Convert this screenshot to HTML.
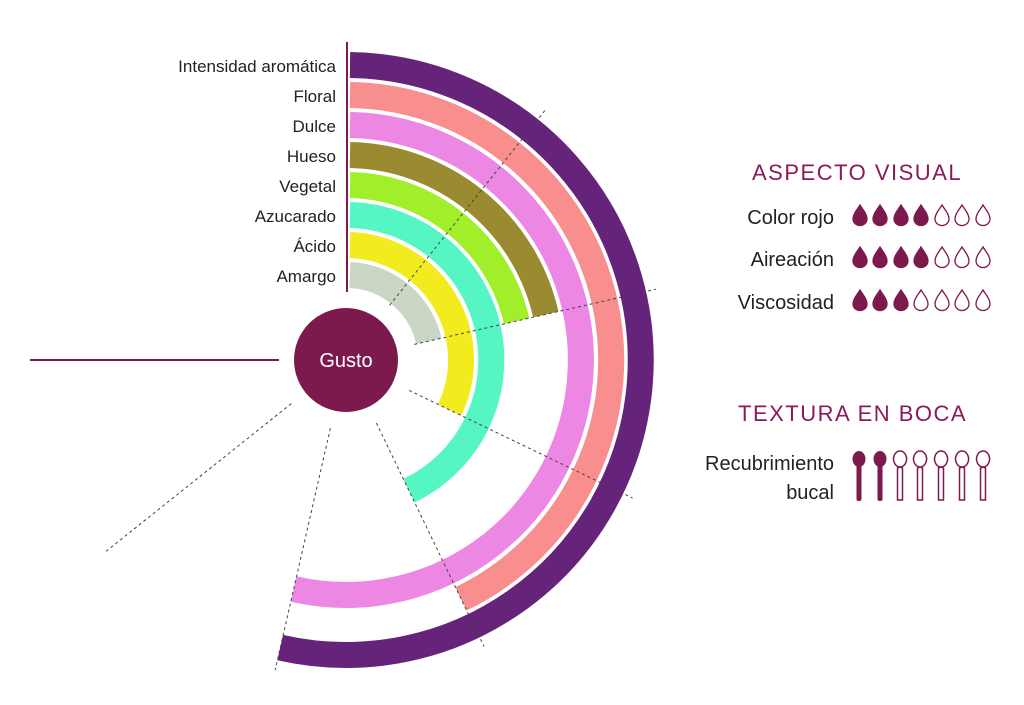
<!DOCTYPE html>
<html><head><meta charset="utf-8"><style>
body{margin:0;background:#fff}
svg{display:block}
text{font-family:"Liberation Sans",sans-serif}
</style></head><body>
<svg width="1024" height="705" viewBox="0 0 1024 705" xmlns="http://www.w3.org/2000/svg">
<g fill="none" stroke-width="26">
<path d="M350 65 A295 295 0 1 1 280.2 647.6" stroke="#66237a"/>
<path d="M350 95 A265 265 0 0 1 461 598.8" stroke="#f98e8e"/>
<path d="M350 125 A235 235 0 1 1 293.7 589.1" stroke="#ec88e4"/>
<path d="M350 155 A205 205 0 0 1 545.8 314.4" stroke="#9a8a30"/>
<path d="M350 185 A175 175 0 0 1 516.6 321" stroke="#a0ef2a"/>
<path d="M350 215 A145 145 0 0 1 409 490.7" stroke="#55f5c4"/>
<path d="M350 245 A115 115 0 0 1 449.6 409.9" stroke="#f2ec1f"/>
<path d="M350 275 A85 85 0 0 1 428.9 341.1" stroke="#c9d6c4"/>
</g>
<g stroke="#444" stroke-width="1" stroke-dasharray="3 3">
<line x1="389.6" y1="305.3" x2="545.5" y2="109.8"/>
<line x1="414.2" y1="344.4" x2="656" y2="289.2"/>
<line x1="409.1" y1="390.4" x2="632.5" y2="498"/>
<line x1="376.4" y1="423" x2="484" y2="646.5"/>
<line x1="330.4" y1="428.2" x2="275.2" y2="670"/>
<line x1="291.3" y1="403.6" x2="103.6" y2="553.3"/>
</g>
<line x1="347" y1="42" x2="347" y2="292" stroke="#7d1a4d" stroke-width="2"/>
<line x1="30" y1="360" x2="279" y2="360" stroke="#7d1a4d" stroke-width="2"/>
<circle cx="346" cy="360" r="52" fill="#7d1a4d"/>
<text x="346" y="367" fill="#fff" font-size="20" text-anchor="middle">Gusto</text>
<g font-size="17" fill="#222" text-anchor="end">
<text x="336" y="72">Intensidad aromática</text>
<text x="336" y="102">Floral</text>
<text x="336" y="132">Dulce</text>
<text x="336" y="162">Hueso</text>
<text x="336" y="192">Vegetal</text>
<text x="336" y="222">Azucarado</text>
<text x="336" y="252">Ácido</text>
<text x="336" y="282">Amargo</text>
</g>
<g fill="#8b1a5b" font-size="22" letter-spacing="1.5">
<text x="752" y="180">ASPECTO VISUAL</text>
<text x="738" y="421">TEXTURA EN BOCA</text>
</g>
<g font-size="20" fill="#222" text-anchor="end">
<text x="834" y="224">Color rojo</text>
<text x="834" y="266">Aireación</text>
<text x="834" y="309">Viscosidad</text>
<text x="834" y="470">Recubrimiento</text>
<text x="834" y="499">bucal</text>
</g>
<defs>
<path id="d" d="M0 -10 C3 -5 7 -1 7 4 A7 6.5 0 0 1 -7 4 C-7 -1 -3 -5 0 -10Z"/>
</defs>
<g fill="#7d1a4d" stroke="#7d1a4d" stroke-width="1.3">
<use href="#d" x="860" y="215"/><use href="#d" x="880" y="215"/><use href="#d" x="901" y="215"/><use href="#d" x="921" y="215"/>
<use href="#d" x="860" y="257"/><use href="#d" x="880" y="257"/><use href="#d" x="901" y="257"/><use href="#d" x="921" y="257"/>
<use href="#d" x="860" y="300"/><use href="#d" x="880" y="300"/><use href="#d" x="901" y="300"/>
</g>
<g fill="none" stroke="#7d1a4d" stroke-width="1.3">
<use href="#d" x="942" y="215"/><use href="#d" x="962" y="215"/><use href="#d" x="983" y="215"/>
<use href="#d" x="942" y="257"/><use href="#d" x="962" y="257"/><use href="#d" x="983" y="257"/>
<use href="#d" x="921" y="300"/><use href="#d" x="942" y="300"/><use href="#d" x="962" y="300"/><use href="#d" x="983" y="300"/>
</g>
<g fill="#7d1a4d">
<ellipse cx="859" cy="459" rx="6.5" ry="8"/><rect x="856.5" y="464" width="5" height="37" rx="2"/>
<ellipse cx="880" cy="459" rx="6.5" ry="8"/><rect x="877.5" y="464" width="5" height="37" rx="2"/>
</g>
<g fill="none" stroke="#7d1a4d" stroke-width="1.5">
<path d="M900 467 A6.5 8 0 1 1 900.1 467 L902.5 468 L902.5 500 L897.5 500 L897.5 468 Z"/>
<path d="M920 467 A6.5 8 0 1 1 920.1 467 L922.5 468 L922.5 500 L917.5 500 L917.5 468 Z"/>
<path d="M941 467 A6.5 8 0 1 1 941.1 467 L943.5 468 L943.5 500 L938.5 500 L938.5 468 Z"/>
<path d="M962 467 A6.5 8 0 1 1 962.1 467 L964.5 468 L964.5 500 L959.5 500 L959.5 468 Z"/>
<path d="M983 467 A6.5 8 0 1 1 983.1 467 L985.5 468 L985.5 500 L980.5 500 L980.5 468 Z"/>
</g>
</svg>
</body></html>
